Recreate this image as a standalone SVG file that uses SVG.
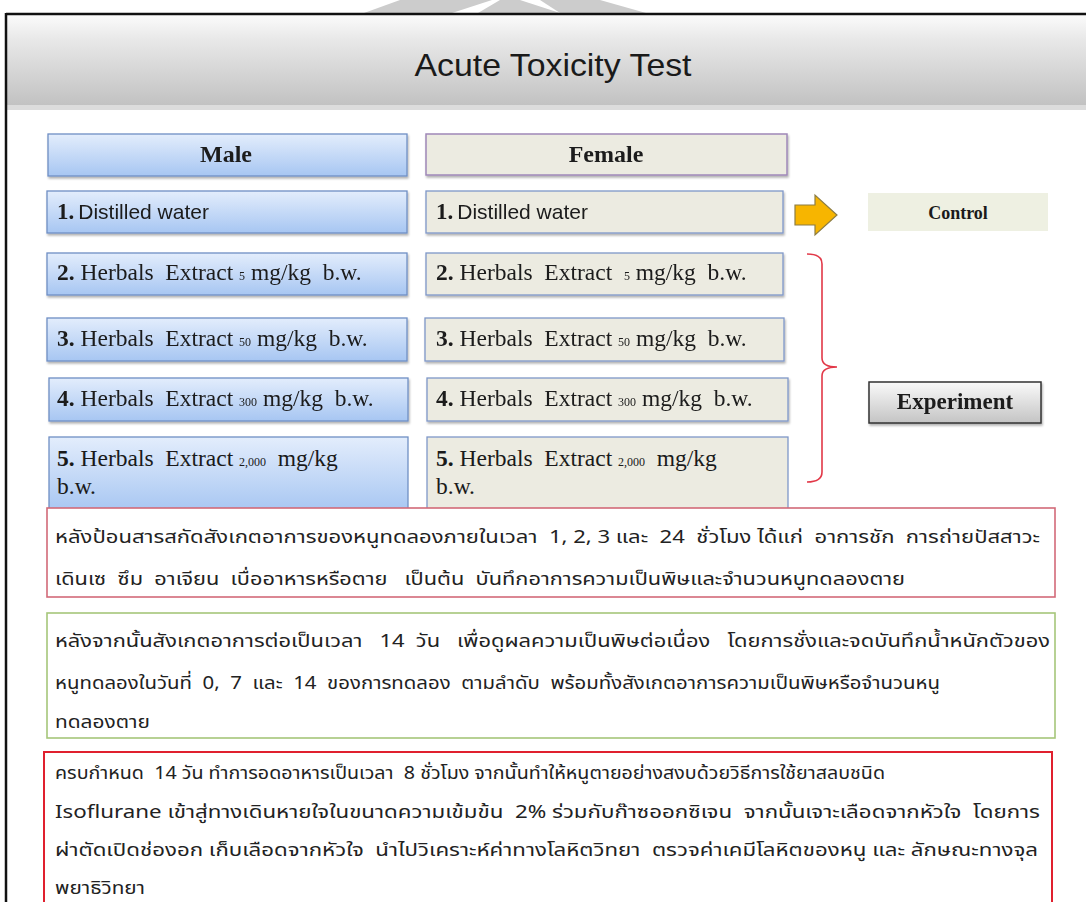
<svg xmlns="http://www.w3.org/2000/svg" width="1086" height="902" viewBox="0 0 1086 902">
<style>
text{white-space:pre}
.ser{font-family:"Liberation Serif","Times New Roman",serif;fill:#1a1a1a}
.sans{font-family:"Liberation Sans",Arial,sans-serif;fill:#1a1a1a}
.th{font-family:Tahoma,"Noto Sans Thai","Noto Sans","DejaVu Sans",sans-serif;font-size:18px;fill:#222}
.mbox{fill:url(#blueG);stroke:#6f8fc4;stroke-width:1.3}
.fbox{fill:#ecebe1;stroke:#7f97c8;stroke-width:1.3}
.row{font-size:23.5px}
.sm{font-size:12px}
</style>
<defs>
<linearGradient id="hdrG" x1="0" y1="0" x2="0" y2="1">
<stop offset="0" stop-color="#fbfbfb"/>
<stop offset="0.25" stop-color="#e9e9e9"/>
<stop offset="1" stop-color="#c0c0c0"/>
</linearGradient>
<linearGradient id="blueG" x1="0" y1="0" x2="0" y2="1">
<stop offset="0" stop-color="#e3edfc"/>
<stop offset="1" stop-color="#a7c6f2"/>
</linearGradient>
<linearGradient id="expG" x1="0" y1="0" x2="0" y2="1">
<stop offset="0" stop-color="#fafafa"/>
<stop offset="1" stop-color="#c4c4c4"/>
</linearGradient>
<filter id="sh" x="-5%" y="-20%" width="110%" height="150%">
<feDropShadow dx="1" dy="2" stdDeviation="1.2" flood-color="#000" flood-opacity="0.3"/>
</filter>
</defs>
<rect width="1086" height="902" fill="#ffffff"/>
<g id="watermark" fill="#cccccc">
<polygon points="364,13 452,13 492,0 400,0"/>
<polygon points="478,13 560,13 520,0 500,0"/>
<polygon points="560,13 646,13 600,0 540,0"/>
</g>
<g id="frame">
<rect x="7" y="15" width="1090" height="93" fill="url(#hdrG)"/>
<rect x="7" y="105" width="1090" height="5" fill="#dcdcdc"/>
<line x1="6" y1="14" x2="1086" y2="14" stroke="#111" stroke-width="2.5"/>
<line x1="6" y1="13" x2="6" y2="902" stroke="#111" stroke-width="2.5"/>
<text x="553" y="76" class="sans" font-size="32" text-anchor="middle" textLength="277" lengthAdjust="spacingAndGlyphs" fill="#111">Acute Toxicity Test</text>
</g>
<g id="male-header" filter="url(#sh)"><rect class="mbox" x="48" y="134" width="359" height="42"/><text class="ser" x="226" y="162" font-size="24" font-weight="bold" text-anchor="middle">Male</text></g>
<g id="female-header" filter="url(#sh)"><rect x="426" y="134" width="361" height="41" fill="#ecebe1" stroke="#9f88b8" stroke-width="1.5"/><text class="ser" x="606" y="162" font-size="24" font-weight="bold" text-anchor="middle">Female</text></g>
<g id="male-1" filter="url(#sh)"><rect class="mbox" x="47" y="191" width="360" height="42"/><text x="57" y="219"><tspan class="ser" font-size="23" font-weight="bold">1.</tspan><tspan class="sans" font-size="21" dx="4">Distilled water</tspan></text></g>
<g id="male-2" filter="url(#sh)"><rect class="mbox" x="47" y="253" width="360" height="42"/><text class="ser row" x="57" y="280"><tspan font-weight="bold">2.</tspan> Herbals  Extract <tspan class="sm">5</tspan> mg/kg  b.w.</text></g>
<g id="male-3" filter="url(#sh)"><rect class="mbox" x="47" y="318" width="360" height="43"/><text class="ser row" x="57" y="346"><tspan font-weight="bold">3.</tspan> Herbals  Extract <tspan class="sm">50</tspan> mg/kg  b.w.</text></g>
<g id="male-4" filter="url(#sh)"><rect class="mbox" x="49" y="378" width="359" height="43"/><text class="ser row" x="57" y="406"><tspan font-weight="bold">4.</tspan> Herbals  Extract <tspan class="sm">300</tspan> mg/kg  b.w.</text></g>
<g id="male-5"><rect class="mbox" x="49" y="437" width="359" height="75"/><text class="ser row" x="57" y="466"><tspan font-weight="bold">5.</tspan> Herbals  Extract <tspan class="sm">2,000</tspan>  mg/kg</text><text class="ser row" x="57" y="494">b.w.</text></g>
<g id="female-1" filter="url(#sh)"><rect class="fbox" x="426" y="191" width="357" height="42"/><text x="436" y="219"><tspan class="ser" font-size="23" font-weight="bold">1.</tspan><tspan class="sans" font-size="21" dx="4">Distilled water</tspan></text></g>
<g id="female-2" filter="url(#sh)"><rect class="fbox" x="426" y="253" width="357" height="42"/><text class="ser row" x="436" y="280"><tspan font-weight="bold">2.</tspan> Herbals  Extract  <tspan class="sm">5</tspan> mg/kg  b.w.</text></g>
<g id="female-3" filter="url(#sh)"><rect class="fbox" x="425" y="318" width="359" height="43"/><text class="ser row" x="436" y="346"><tspan font-weight="bold">3.</tspan> Herbals  Extract <tspan class="sm">50</tspan> mg/kg  b.w.</text></g>
<g id="female-4" filter="url(#sh)"><rect class="fbox" x="427" y="378" width="361" height="43"/><text class="ser row" x="436" y="406"><tspan font-weight="bold">4.</tspan> Herbals  Extract <tspan class="sm">300</tspan> mg/kg  b.w.</text></g>
<g id="female-5"><rect class="fbox" x="427" y="437" width="361" height="75"/><text class="ser row" x="436" y="466"><tspan font-weight="bold">5.</tspan> Herbals  Extract <tspan class="sm">2,000</tspan>  mg/kg</text><text class="ser row" x="436" y="494">b.w.</text></g>
<g id="connectors">
<polygon points="795,205 815,205 815,195 837,215 815,235 815,225 795,225" fill="#f7b500" stroke="#8c7d45" stroke-width="1.2"/>
<path d="M807,254 Q822,254 822,264 L822,358 Q822,367 837,367 Q822,367 822,376 L822,472 Q822,482 807,482" fill="none" stroke="#e23848" stroke-width="1.6"/>
</g>
<g id="control"><rect x="868" y="193" width="180" height="38" fill="#eef0e2"/><text class="ser" x="958" y="219" font-size="18" font-weight="bold" text-anchor="middle">Control</text></g>
<g id="experiment" filter="url(#sh)"><rect x="869" y="382" width="172" height="41" fill="url(#expG)" stroke="#333" stroke-width="1.5"/><text class="ser" x="955" y="409" font-size="23" font-weight="bold" text-anchor="middle">Experiment</text></g>
<g id="note-1"><rect x="47" y="508" width="1008" height="89" fill="#ffffff" stroke="#d26a78" stroke-width="1.6"/>
<text class="th" x="55" y="543" textLength="985" lengthAdjust="spacingAndGlyphs">หลังป้อนสารสกัดสังเกตอาการของหนูทดลองภายในเวลา  1, 2, 3 และ  24  ชั่วโมง ได้แก่  อาการชัก  การถ่ายปัสสาวะ</text>
<text class="th" x="55" y="585" textLength="850" lengthAdjust="spacingAndGlyphs">เดินเซ  ซึม  อาเจียน  เบื่ออาหารหรือตาย   เป็นต้น  บันทึกอาการความเป็นพิษและจำนวนหนูทดลองตาย</text></g>
<g id="note-2"><rect x="47" y="613" width="1008" height="125" fill="#ffffff" stroke="#a6c67a" stroke-width="1.6"/>
<text class="th" x="55" y="647" textLength="995" lengthAdjust="spacingAndGlyphs">หลังจากนั้นสังเกตอาการต่อเป็นเวลา   14  วัน   เพื่อดูผลความเป็นพิษต่อเนื่อง   โดยการชั่งและจดบันทึกน้ำหนักตัวของ</text>
<text class="th" x="55" y="689" textLength="885" lengthAdjust="spacingAndGlyphs">หนูทดลองในวันที่  0,  7  และ  14  ของการทดลอง  ตามลำดับ  พร้อมทั้งสังเกตอาการความเป็นพิษหรือจำนวนหนู</text>
<text class="th" x="55" y="728" textLength="95" lengthAdjust="spacingAndGlyphs">ทดลองตาย</text></g>
<g id="note-3"><rect x="44" y="752" width="1008" height="160" fill="#ffffff" stroke="#e0202e" stroke-width="2"/>
<text class="th" x="55" y="779" textLength="830" lengthAdjust="spacingAndGlyphs">ครบกำหนด  14 วัน ทำการอดอาหารเป็นเวลา  8 ชั่วโมง จากนั้นทำให้หนูตายอย่างสงบด้วยวิธีการใช้ยาสลบชนิด</text>
<text class="th" x="55" y="818" textLength="985" lengthAdjust="spacingAndGlyphs">Isoflurane เข้าสู่ทางเดินหายใจในขนาดความเข้มข้น  2% ร่วมกับก๊าซออกซิเจน  จากนั้นเจาะเลือดจากหัวใจ  โดยการ</text>
<text class="th" x="55" y="856" textLength="983" lengthAdjust="spacingAndGlyphs">ผ่าตัดเปิดช่องอก เก็บเลือดจากหัวใจ  นำไปวิเคราะห์ค่าทางโลหิตวิทยา  ตรวจค่าเคมีโลหิตของหนู และ ลักษณะทางจุล</text>
<text class="th" x="55" y="894" textLength="90" lengthAdjust="spacingAndGlyphs">พยาธิวิทยา</text></g>
</svg>
